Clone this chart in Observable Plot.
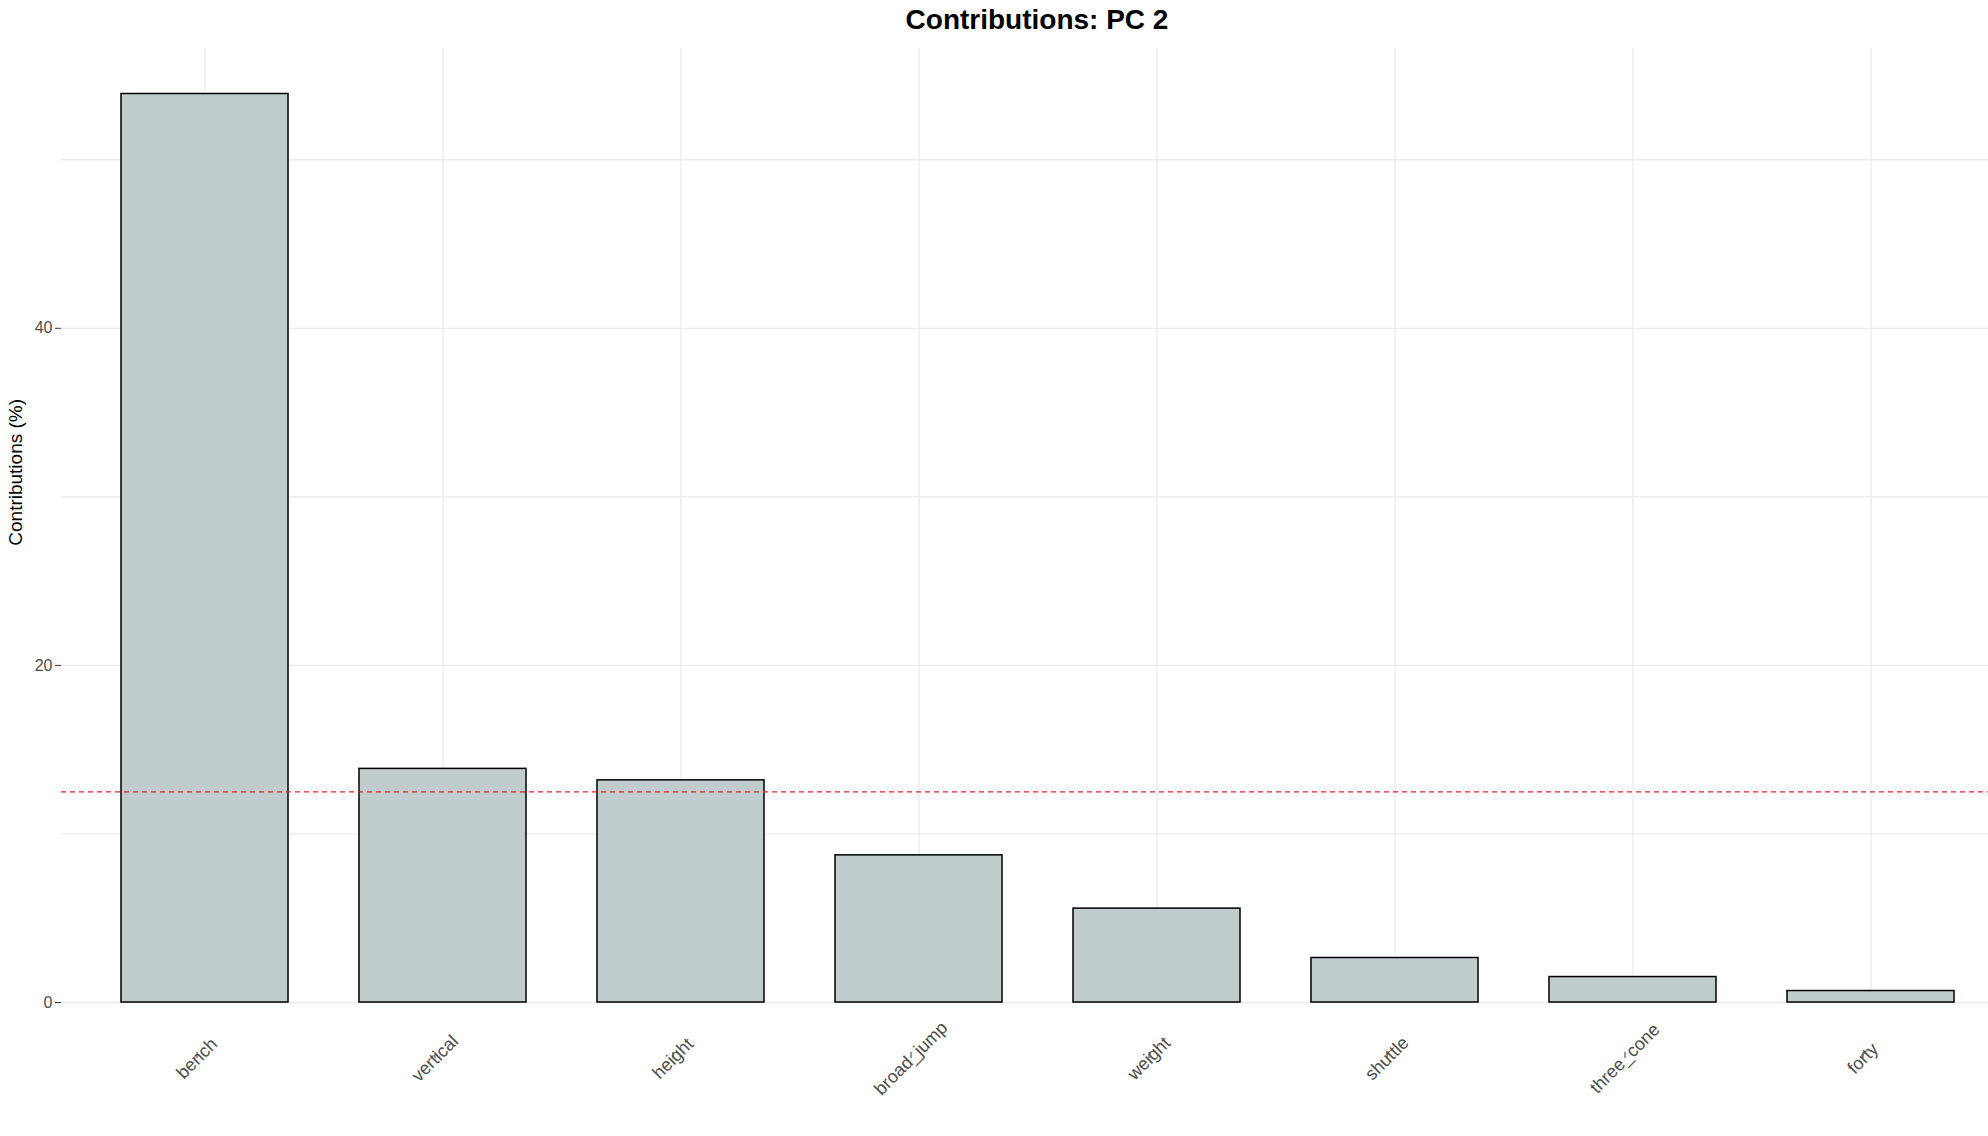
<!DOCTYPE html>
<html><head><meta charset="utf-8">
<script src="https://cdn.jsdelivr.net/npm/d3@7"></script>
<script src="https://cdn.jsdelivr.net/npm/@observablehq/plot@0.6"></script>
<style>
body{margin:0;background:#fff;font-family:"Liberation Sans",Arial,sans-serif}
#wrap{position:relative;width:1988px;height:1136px}
#title{position:absolute;top:4px;left:0;width:2074px;text-align:center;font-weight:bold;font-size:28px;color:#000}
</style></head>
<body><div id="wrap"><div id="title">Contributions: PC 2</div><div id="chart"></div></div>
<script>
const variables = ["bench","vertical","height","broad_jump","weight","shuttle","three_cone","forty"];
const contributions = [53.9,13.86,13.18,8.73,5.57,2.64,1.51,0.68];
const expected = 12.5;
const data = variables.map((v,i)=>({variable:v, value:contributions[i]}));

const chart = Plot.plot({
  width:1988, height:1136,
  marginTop:48, marginBottom:134, marginLeft:61, marginRight:0,
  style:{fontFamily:"Liberation Sans, Arial, sans-serif", fontSize:"15px", background:"#fff"},
  x:{domain:variables, range:[61,2013], paddingInner:0.3, paddingOuter:0.25, label:null},
  y:{domain:[0,56.6], label:null},
  marks:[
    Plot.ruleY([0,10,20,30,40,50],{stroke:"#ebebeb", strokeWidth:1.3}),
    Plot.ruleX(variables,{x:d=>d, stroke:"#ebebeb", strokeWidth:1.3, y1:0, y2:56.6}),
    Plot.barY(data,{x:"variable", y:"value", fill:"#c1cccc", stroke:"#000", strokeWidth:1.5}),
    Plot.ruleY([expected],{stroke:"#e3202a", strokeDasharray:"5,4", strokeWidth:1.3}),
    Plot.axisY({ticks:[0,20,40], tickSize:6, stroke:"#333", color:"#4d4d4d", label:null, fontSize:16}),
    Plot.axisX({tickSize:6, stroke:"#333", color:"#4d4d4d", tickRotate:-45, textAnchor:"middle", tickPadding:0, dy:50, dx:-8, label:null, fontSize:18}),
    Plot.text(["Contributions (%)"],{frameAnchor:"left", y:()=>27.1, dx:-46, rotate:-90, fontSize:19, fill:"#000"})
  ]
});
document.getElementById("chart").append(chart);
</script></body></html>
